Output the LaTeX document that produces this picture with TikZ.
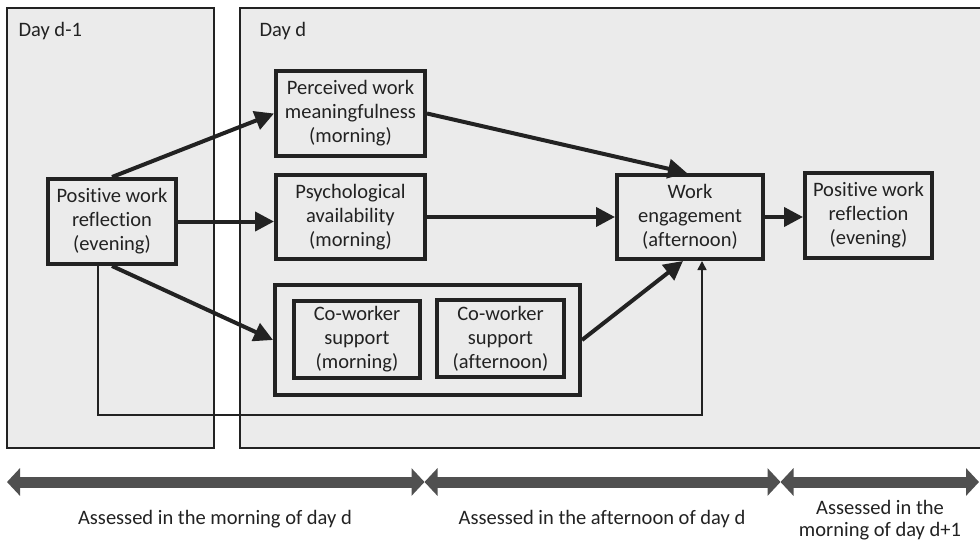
\documentclass[tikz,border=0pt]{standalone}
\usepackage{fontspec}
\setmainfont[Ligatures=NoCommon]{Carlito}
\usetikzlibrary{arrows.meta}
\definecolor{panelgray}{HTML}{EBEBEB}
\definecolor{ink}{HTML}{222222}
\definecolor{bararrow}{HTML}{505050}
\begin{document}
\begin{tikzpicture}[x=1pt,y=-1pt,
  every node/.style={font=\fontsize{20.5}{24}\selectfont, text=ink},
  panel/.style={draw=ink, line width=1.5pt, fill=panelgray},
  var/.style={draw=ink, line width=4pt, fill=panelgray, align=center, inner sep=0pt},
  path arrow/.style={draw=ink, line width=4pt, -{Triangle[length=19pt,width=19pt]}},
  thin arrow/.style={draw=ink, line width=1.5pt, -{Triangle[length=9pt,width=9pt]}},
  bar/.style={draw=bararrow, line width=11pt, {Triangle[length=13pt,width=27pt]}-{Triangle[length=13pt,width=27pt]}}
]
\useasboundingbox (0,0) rectangle (980,543);
\fill[white] (0,0) rectangle (980,543);
% panels
\draw[panel] (7,8) rectangle (214,448);
\draw[panel] (240,8) rectangle (990,448);
\node[anchor=base west] (dm1) at (15,37) {Day d-1};
\node[anchor=base west] (dd) at (256,37) {Day d};
% variables
\node[var, minimum width=128pt, minimum height=85pt] (lp) at (112,221.5) {Posit\kern0pt ive work\\reflection\\(evening)};
\node[var, minimum width=149pt, minimum height=85pt] (perc) at (350.5,113.5) {Perceived work\\meaningfulness\\(morning)};
\node[var, minimum width=149pt, minimum height=84pt] (psy) at (350.5,217) {Psychological\\availability\\(morning)};
\node[var, minimum width=146pt, minimum height=84pt] (we) at (690,217) {Work\\engagement\\(afternoon)};
\node[var, minimum width=127pt, minimum height=85pt] (rp) at (868.5,215.5) {Posit\kern0pt ive work\\reflection\\(evening)};
\node[var, minimum width=305pt, minimum height=110pt] (grp) at (427.5,340) {};
\node[var, minimum width=126pt, minimum height=77pt] (cwm) at (357,339.5) {Co-worker\\support\\(morning)};
\node[var, minimum width=127pt, minimum height=77pt] (cwa) at (500.5,338.5) {Co-worker\\support\\(afternoon)};
% connectors
\draw[path arrow] (lp.north) -- (perc.west);
\draw[path arrow] (lp.east) -- (lp.east -| psy.west);
\draw[path arrow] (lp.south) -- (grp.west);
\draw[path arrow] (perc.east) -- ([xshift=-3pt]we.north);
\draw[path arrow] (psy.east) -- (we.west);
\draw[path arrow] (grp.east) -- ([xshift=-7pt]we.south);
\draw[path arrow] (we.east) -- (we.east -| rp.west);
\coordinate (fbl) at (98,415);
\coordinate (fbr) at (702,415);
\draw[thin arrow] (lp.south -| fbl) -- (fbl) -- (fbr) -- (we.south -| fbr);
% time bars
\coordinate (b0) at (7,482);
\coordinate (b1) at (424.5,482);
\coordinate (b2) at (780.5,482);
\coordinate (b3) at (979,482);
\draw[bar] (b0) -- (b1);
\draw[bar] (b1) -- (b2);
\draw[bar] (b2) -- (b3);
\node (t1) at (215,519) {Assessed in the morning of day d};
\node (t2) at (602,519) {Assessed in the afternoon of day d};
\node[align=center, font=\fontsize{20.5}{22.5}\selectfont] (t3) at (880,520) {Assessed in the\\morning of day d+1};
\end{tikzpicture}
\end{document}
